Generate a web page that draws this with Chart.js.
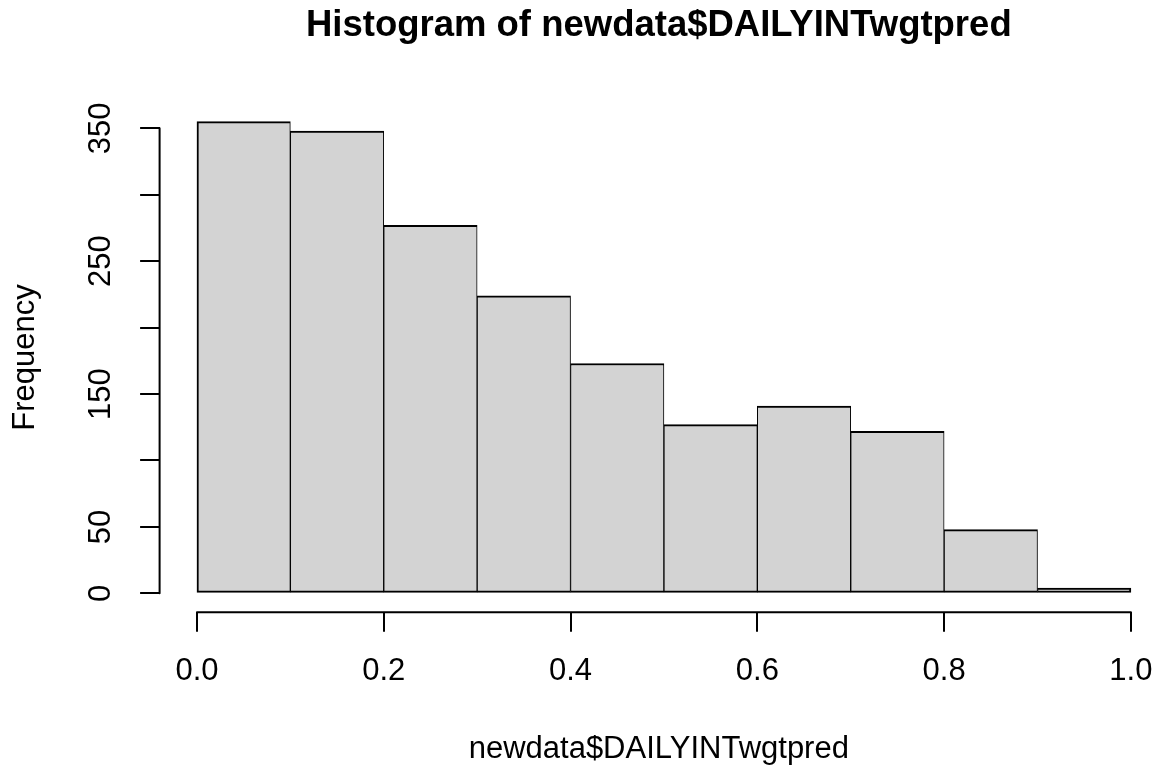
<!DOCTYPE html>
<html>
<head>
<meta charset="utf-8">
<script src="https://cdn.jsdelivr.net/npm/chart.js@4.4.1/dist/chart.umd.min.js"></script>
<style>
  html, body { margin: 0; padding: 0; background: #ffffff; }
  canvas { display: block; }
</style>
</head>
<body>
<canvas id="c" width="1158" height="765"></canvas>
<script>
// ---- data ----
const chartTitle = 'Histogram of newdata$DAILYINTwgtpred';
const xAxisTitle = 'newdata$DAILYINTwgtpred';
const yAxisTitle = 'Frequency';
const binStarts = [0.0, 0.1, 0.2, 0.3, 0.4, 0.5, 0.6, 0.7, 0.8, 0.9];
const binEnds   = [0.1, 0.2, 0.3, 0.4, 0.5, 0.6, 0.7, 0.8, 0.9, 1.0];
const frequencies = [355, 348, 277, 224, 173, 127, 141, 122, 48, 4];
const xTickValues = [0.0, 0.2, 0.4, 0.6, 0.8, 1.0];
const xTickLabels = ['0.0', '0.2', '0.4', '0.6', '0.8', '1.0'];
const yTickValues = [0, 50, 100, 150, 200, 250, 300, 350];
const yTickLabels = ['0', '50', '', '150', '', '250', '', '350'];

// ---- chart ----
Chart.defaults.font.family = "'Liberation Sans', Arial, Helvetica, sans-serif";
Chart.defaults.color = '#000000';

const points = binStarts.map((s, i) => ({ x: (s + binEnds[i]) / 2, y: frequencies[i] }));
const lastIdx = points.length - 1;

const rAxisLines = {
  id: 'rAxisLines',
  afterDraw(chart) {
    const { ctx, scales: { x, y } } = chart;
    ctx.save();
    ctx.strokeStyle = '#000000';
    ctx.lineWidth = 2;
    ctx.lineCap = 'round';
    ctx.beginPath();
    const xy = x.top;
    ctx.moveTo(x.getPixelForValue(xTickValues[0]), xy);
    ctx.lineTo(x.getPixelForValue(xTickValues[xTickValues.length - 1]), xy);
    const yx = y.right;
    ctx.moveTo(yx, y.getPixelForValue(yTickValues[0]));
    ctx.lineTo(yx, y.getPixelForValue(yTickValues[yTickValues.length - 1]));
    ctx.stroke();
    ctx.restore();
  }
};

new Chart(document.getElementById('c'), {
  type: 'bar',
  data: {
    datasets: [{
      data: points,
      backgroundColor: '#D3D3D3',
      borderColor: '#000000',
      borderSkipped: false,
      borderWidth: (ctx) => ({
        top: 2,
        bottom: 2,
        left: ctx.dataIndex === 0 ? 2 : 1,
        right: ctx.dataIndex === lastIdx ? 2 : 1
      }),
      barPercentage: 1.0,
      categoryPercentage: 1.0
    }]
  },
  options: {
    responsive: false,
    animation: false,
    devicePixelRatio: 1,
    layout: { padding: { left: 0, right: 0, top: 0, bottom: 0 } },
    plugins: {
      legend: { display: false },
      tooltip: { enabled: false },
      title: {
        display: true,
        text: chartTitle,
        fullSize: false,
        color: '#000000',
        font: { size: 36.5, weight: 'bold', lineHeight: 1.2 },
        padding: { top: 4.0, bottom: 55.0 }
      }
    },
    scales: {
      x: {
        type: 'linear',
        offset: false,
        min: -0.04,
        max: 1.029,
        afterBuildTicks: (s) => { s.ticks = xTickValues.map(v => ({ value: v })); },
        afterFit: (s) => { s.height = 152.8; },
        border: { display: false },
        grid: { display: true, offset: false, drawOnChartArea: false, drawTicks: true, tickLength: 19.5, color: '#000000', lineWidth: 2 },
        ticks: {
          autoSkip: false,
          maxRotation: 0,
          padding: 0,
          color: '#000000',
          font: { size: 31, lineHeight: 2.58 },
          callback: (v, i) => xTickLabels[i]
        },
        title: {
          display: true,
          text: xAxisTitle,
          color: '#000000',
          font: { size: 31, lineHeight: 1.0 },
          padding: { top: 0, bottom: 0 }
        }
      },
      y: {
        type: 'linear',
        min: -14.2,
        max: 369.2,
        afterBuildTicks: (s) => { s.ticks = yTickValues.map(v => ({ value: v })); },
        afterFit: (s) => { s.width = 159.6; },
        border: { display: false },
        grid: { display: true, drawOnChartArea: false, drawTicks: true, tickLength: 19.5, color: '#000000', lineWidth: 2 },
        ticks: {
          autoSkip: false,
          minRotation: 90,
          maxRotation: 90,
          crossAlign: 'center',
          padding: 12.8,
          color: '#000000',
          font: { size: 31, lineHeight: 1.2 },
          callback: (v, i) => yTickLabels[i]
        },
        title: {
          display: true,
          text: yAxisTitle,
          color: '#000000',
          font: { size: 31, lineHeight: 1.2 },
          padding: { top: 7.2, bottom: 0 }
        }
      }
    }
  },
  plugins: [rAxisLines]
});
</script>
</body>
</html>
